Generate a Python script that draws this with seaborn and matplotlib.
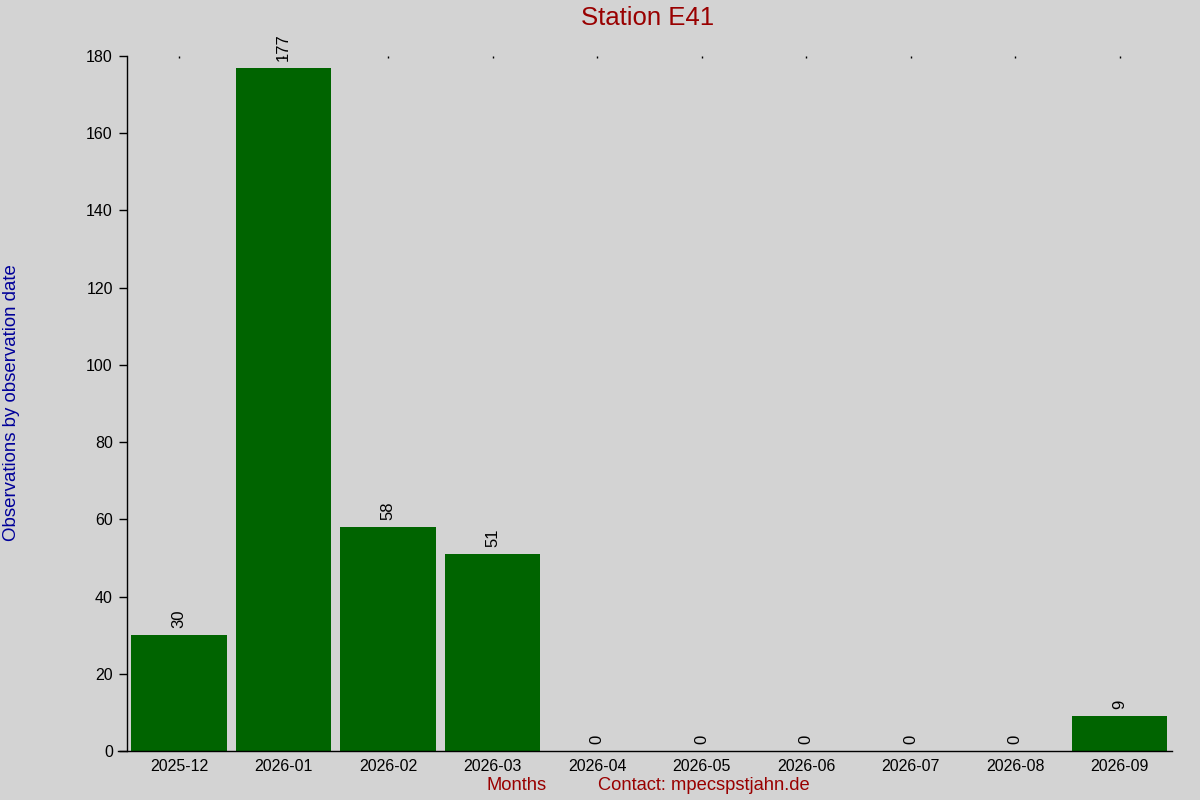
import matplotlib
matplotlib.use("Agg")
import matplotlib.pyplot as plt
import seaborn as sns
import pandas as pd

months = ["2025-12", "2026-01", "2026-02", "2026-03", "2026-04",
          "2026-05", "2026-06", "2026-07", "2026-08", "2026-09"]
counts = [30, 177, 58, 51, 0, 0, 0, 0, 0, 9]
y_ticks = [0, 20, 40, 60, 80, 100, 120, 140, 160, 180]

title = "Station E41"
xlabel = "Months"
contact = "Contact: mpecspstjahn.de"
ylabel = "Observations by observation date"

sns.set_theme(style="white")
plt.rcParams["font.family"] = ["Liberation Sans", "DejaVu Sans"]

bg = "#d3d3d3"
fig = plt.figure(figsize=(12, 8), dpi=100, facecolor=bg)
ax = fig.add_axes([118 / 1200, 1 - 751 / 800, (1172 - 118) / 1200, (751 - 56) / 800])
ax.set_facecolor(bg)

df = pd.DataFrame({"month": months, "count": counts})
sns.barplot(data=df, x="month", y="count", color="#006400", saturation=1,
            width=0.91, linewidth=0, edgecolor="none", ax=ax)

ax.set_xlim(-0.583, 9.5)
ax.set_ylim(0, 180)
ax.set_yticks(y_ticks)

for s in ["top", "right"]:
    ax.spines[s].set_visible(False)
ax.spines["left"].set_position(("data", -0.5))
ax.spines["left"].set_color("black")
ax.spines["bottom"].set_color("black")
ax.spines["left"].set_linewidth(1)
ax.spines["bottom"].set_linewidth(1)

ax.tick_params(axis="y", left=True, length=6, width=1, direction="out",
               labelsize=11.5, colors="black", pad=4)
ax.tick_params(axis="x", bottom=False, top=True, length=1.2, width=1,
               direction="in", labelsize=11.5, labelbottom=True, labeltop=False,
               colors="black", pad=6)

for c in ax.containers:
    ax.bar_label(c, labels=[str(v) for v in counts], rotation=90,
                 padding=5, fontsize=12, color="black")

ax.set_xlabel("")
ax.set_ylabel("")

fig.text(648 / 1200, 1 - 18 / 800, title, ha="center", va="center",
         fontsize=18.5, color="#990000")
fig.text(517 / 1200, 1 - 786 / 800, xlabel, ha="center", va="center",
         fontsize=13.2, color="#990000")
fig.text(704 / 1200, 1 - 786 / 800, contact, ha="center", va="center",
         fontsize=13.2, color="#990000")
fig.text(12 / 1200, 1 - 403 / 800, ylabel, ha="center", va="center",
         rotation=90, fontsize=13.4, color="#000099")

fig.savefig("out.png", dpi=100, facecolor=bg)
